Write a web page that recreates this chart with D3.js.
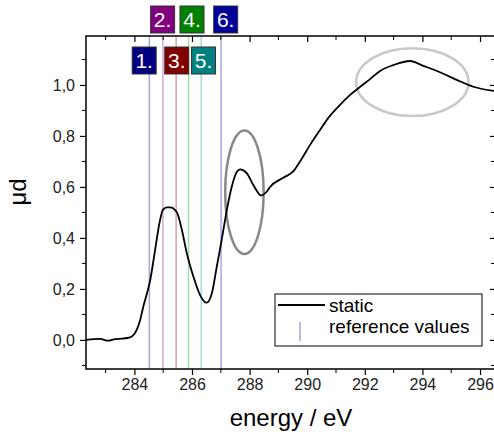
<!DOCTYPE html>
<html>
<head>
<meta charset="utf-8">
<script src="https://cdn.jsdelivr.net/npm/d3@7"></script>
<style>
  body { margin: 0; background: #fff; }
  svg { display: block; font-family: 'Liberation Sans', Arial, sans-serif; }
</style>
</head>
<body>
<div id="chart"></div>
<script>
// spectrum
const energy = [282.32, 282.81, 283.09, 283.33, 283.57, 283.85, 283.99, 284.08, 284.2, 284.31,
  284.55, 284.72, 284.87, 284.99, 285.13, 285.24, 285.35, 285.49, 285.65, 285.82,
  286.05, 286.28, 286.51, 286.69, 286.86, 287.03, 287.21, 287.38, 287.56, 287.67,
  287.9, 288.13, 288.4, 288.6, 288.71, 289.17, 289.52, 289.75, 290.1, 290.45,
  290.74, 291.14, 291.49, 291.84, 292.19, 292.53, 292.99, 293.57, 294.03, 294.61,
  295.19, 295.77, 296.52];
const mud = [0.0, 0.004, -0.003, 0.003, 0.005, 0.01, 0.022, 0.039, 0.078, 0.131,
  0.235, 0.353, 0.458, 0.51, 0.52, 0.52, 0.516, 0.497, 0.431, 0.34,
  0.248, 0.176, 0.146, 0.183, 0.287, 0.392, 0.51, 0.601, 0.66, 0.669,
  0.654, 0.608, 0.567, 0.582, 0.6, 0.636, 0.662, 0.70, 0.765, 0.824,
  0.872, 0.922, 0.961, 0.993, 1.024, 1.055, 1.078, 1.094, 1.075, 1.05,
  1.02, 0.993, 0.976];

// reference values
const refEnergy = [284.52, 284.99, 285.45, 285.88, 286.32, 287.01];
const refLabels = ['1.', '2.', '3.', '4.', '5.', '6.'];
const refLabelEnergy = [284.34, 284.98, 285.47, 286.0, 286.4, 287.17];
const refBoxColors = ['#000080', '#800080', '#800000', '#008000', '#008080', '#000099'];
const refLineColors = ['#a6a6d6', '#d6a6d6', '#d6a6a6', '#a6dca6', '#a6dcdc', '#a6a6e6'];

// highlighted regions: [centre energy, centre mud, half width eV, half height mud]
const ellipses = [[287.82, 0.579, 0.667, 0.242], [293.65, 1.011, 1.95, 0.133]];
const ellipseColors = ['#888888', '#c8c8c8'];

const xTicks = [284, 286, 288, 290, 292, 294, 296];
const xMinor = [283, 285, 287, 289, 291, 293, 295];
const yTicks = [0, 0.2, 0.4, 0.6, 0.8, 1.0];
const yMinor = [-0.1, 0.1, 0.3, 0.5, 0.7, 0.9, 1.1];

const W = 494, H = 434;
const margin = {top: 36, right: -1, bottom: 65, left: 86};
const width = W - margin.left - margin.right,
  height = H - margin.top - margin.bottom;

const svg = d3.select('#chart').append('svg')
  .attr('width', W).attr('height', H);
const g = svg.append('g')
  .attr('transform', 'translate(' + margin.left + ',' + margin.top + ')');

const x = d3.scaleLinear().domain([282.32, 296.52]).range([0, width]);
const y = d3.scaleLinear().domain([-0.114, 1.192]).range([height, 0]);

g.append('clipPath').attr('id', 'clip')
  .append('rect').attr('width', width).attr('height', height);

// reference lines
g.selectAll('.ref')
  .data(refEnergy)
  .enter().append('line')
  .attr('x1', d => x(d)).attr('x2', d => x(d))
  .attr('y1', 0).attr('y2', height)
  .style('stroke', (d, i) => refLineColors[i])
  .style('stroke-width', 1.5);

// ellipses
g.selectAll('.ell')
  .data(ellipses)
  .enter().append('ellipse')
  .attr('cx', d => x(d[0])).attr('cy', d => y(d[1]))
  .attr('rx', d => x(d[0] + d[2]) - x(d[0]))
  .attr('ry', d => y(d[1] - d[3]) - y(d[1]))
  .style('fill', 'none')
  .style('stroke', (d, i) => ellipseColors[i])
  .style('stroke-width', 2.5);

// curve
const line = d3.line()
  .x((d, i) => x(energy[i]))
  .y(d => y(d))
  .curve(d3.curveMonotoneX);
g.append('path')
  .datum(mud)
  .attr('clip-path', 'url(#clip)')
  .attr('d', line)
  .style('fill', 'none')
  .style('stroke', '#000')
  .style('stroke-width', 1.8);

// axes
const axisFont = 16;
const axB = g.append('g')
  .attr('transform', 'translate(0,' + height + ')')
  .call(d3.axisBottom(x).tickValues(xTicks).tickSize(6).tickPadding(4).tickFormat(d3.format('d')));
axB.append('g').selectAll('line').data(xMinor).enter().append('line')
  .attr('x1', d => x(d)).attr('x2', d => x(d)).attr('y1', 0).attr('y2', 4)
  .style('stroke', '#000');

const axL = g.append('g')
  .call(d3.axisLeft(y).tickValues(yTicks).tickSize(6).tickPadding(5)
    .tickFormat(d => d3.format('.1f')(d).replace('.', ',')));
axL.append('g').selectAll('line').data(yMinor).enter().append('line')
  .attr('x1', 0).attr('x2', -4).attr('y1', d => y(d)).attr('y2', d => y(d))
  .style('stroke', '#000');

const axT = g.append('g')
  .call(d3.axisTop(x).tickValues(xTicks).tickSize(-6).tickFormat(''));
axT.append('g').selectAll('line').data(xMinor).enter().append('line')
  .attr('x1', d => x(d)).attr('x2', d => x(d)).attr('y1', 0).attr('y2', 4)
  .style('stroke', '#000');

const axR = g.append('g')
  .attr('transform', 'translate(' + width + ',0)')
  .call(d3.axisRight(y).tickValues(yTicks).tickSize(-5).tickFormat(''));
axR.append('g').selectAll('line').data(yMinor).enter().append('line')
  .attr('x1', 0).attr('x2', -4).attr('y1', d => y(d)).attr('y2', d => y(d))
  .style('stroke', '#000');

[axB, axL, axT, axR].forEach(a => {
  a.selectAll('.domain').remove();
  a.selectAll('.tick line').style('stroke-width', 1.2);
  a.selectAll('text').style('font-size', axisFont + 'px')
    .style('font-family', "'Liberation Sans', Arial, sans-serif").style('fill', '#222');
});

// frame
g.append('rect')
  .attr('width', width).attr('height', height)
  .style('fill', 'none').style('stroke', '#000').style('stroke-width', 1.5);

// axis titles
svg.append('text')
  .attr('x', 291).attr('y', 426)
  .attr('text-anchor', 'middle')
  .style('font-size', '24px')
  .text('energy / eV');
svg.append('text')
  .attr('transform', 'translate(26,192) rotate(-90)')
  .attr('text-anchor', 'middle')
  .style('font-size', '24px')
  .text('μd');

// reference labels
const boxW = 24, boxH = 27;
const labels = svg.selectAll('.lab')
  .data(refLabels)
  .enter().append('g')
  .attr('transform', (d, i) => 'translate(' + (margin.left + x(refLabelEnergy[i]) - boxW / 2) + ',' + (i % 2 ? 6 : 47) + ')');
labels.append('rect')
  .attr('width', boxW).attr('height', boxH)
  .style('fill', (d, i) => refBoxColors[i])
  .style('stroke', '#333').style('stroke-width', 1);
labels.append('text')
  .attr('x', boxW / 2).attr('y', boxH / 2 + 7.5)
  .attr('text-anchor', 'middle')
  .style('font-size', '21px').style('fill', '#fff')
  .text(d => d);

// legend
const leg = svg.append('g').attr('transform', 'translate(275,294)');
leg.append('rect')
  .attr('width', 207).attr('height', 52)
  .style('fill', '#fff').style('stroke', '#000').style('stroke-width', 1);
leg.append('line')
  .attr('x1', 3).attr('x2', 50).attr('y1', 11).attr('y2', 11)
  .style('stroke', '#000').style('stroke-width', 1.8);
leg.append('line')
  .attr('x1', 25).attr('x2', 25).attr('y1', 28).attr('y2', 47)
  .style('stroke', refLineColors[0]).style('stroke-width', 1.5);
leg.append('text').attr('x', 54).attr('y', 18).style('font-size', '19px').text('static');
leg.append('text').attr('x', 54).attr('y', 39).style('font-size', '19px').text('reference values');
</script>
</body>
</html>
